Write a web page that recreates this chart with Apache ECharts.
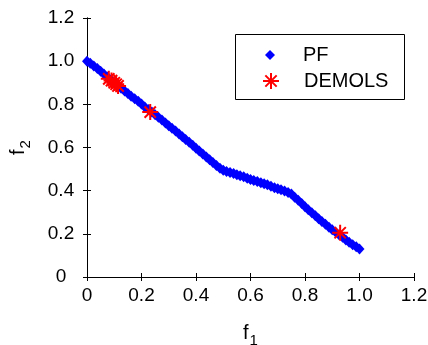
<!DOCTYPE html>
<html>
<head>
<meta charset="utf-8">
<script src="https://cdn.jsdelivr.net/npm/echarts@6/dist/echarts.min.js"></script>
<style>
html,body{margin:0;padding:0;background:#fff;}
#c{width:428px;height:345px;}
</style>
</head>
<body>
<div id="c"></div>
<script>
// Pareto front (PF) points
var pfF1 = [0.000,0.012,0.025,0.038,0.050,0.062,0.075,0.088,0.100,0.112,0.125,0.138,0.150,0.162,0.175,0.188,0.200,0.212,0.225,0.238,0.250,0.262,0.275,0.288,0.300,0.312,0.325,0.338,0.350,0.362,0.375,0.388,0.400,0.412,0.425,0.438,0.450,0.462,0.475,0.488,0.500,0.512,0.525,0.538,0.550,0.562,0.575,0.588,0.600,0.612,0.625,0.638,0.650,0.662,0.675,0.688,0.700,0.712,0.725,0.738,0.750,0.762,0.775,0.788,0.800,0.812,0.825,0.838,0.850,0.862,0.875,0.888,0.900,0.912,0.925,0.938,0.950,0.962,0.975,0.988,1.000];
var pfF2 = [1.000,0.990,0.978,0.966,0.953,0.940,0.927,0.913,0.900,0.888,0.875,0.862,0.850,0.838,0.826,0.814,0.801,0.788,0.776,0.764,0.752,0.740,0.727,0.714,0.701,0.689,0.676,0.663,0.650,0.637,0.624,0.610,0.597,0.584,0.570,0.556,0.543,0.530,0.517,0.504,0.495,0.489,0.484,0.479,0.474,0.469,0.464,0.458,0.452,0.447,0.442,0.437,0.432,0.427,0.421,0.414,0.409,0.404,0.398,0.392,0.384,0.370,0.356,0.341,0.326,0.312,0.298,0.284,0.270,0.257,0.244,0.231,0.219,0.208,0.196,0.184,0.172,0.161,0.150,0.140,0.130];
// DEMOLS solutions
var demF1 = [0.080,0.090,0.100,0.107,0.114,0.232,0.929];
var demF2 = [0.918,0.910,0.900,0.893,0.885,0.764,0.205];
// axis ticks
var axisMin = 0, axisMax = 1.2, axisStep = 0.2;
var seriesNames = ['PF','DEMOLS'];

function zip(a,b){var r=[];for(var i=0;i<a.length;i++)r.push([a[i],b[i]]);return r;}
function fmt(v){return Math.abs(v)<1e-9 ? '0' : v.toFixed(1);}

var starPath = 'path://M0,-10L0,10M-10,0L10,0M-7.07,-7.07L7.07,7.07M-7.07,7.07L7.07,-7.07';
var FONT = 'Liberation Sans, Arial, sans-serif';

function mkX(pos, show){
  return {type:'value', position:pos, min:axisMin, max:axisMax, interval:axisStep,
    axisLine:{show:true, lineStyle:{color:'#000', width:1}},
    axisTick:{show:true, inside:true, length:4, lineStyle:{color:'#000'}},
    splitLine:{show:false},
    axisLabel:{show:show, formatter:fmt, color:'#000', fontSize:19, fontFamily:FONT, margin:9},
    name: show ? '{f|f}{s|1}' : '', nameLocation:'middle', nameGap:42,
    nameTextStyle:{color:'#000', fontFamily:FONT, rich:{f:{fontSize:20, fontFamily:FONT, color:'#000'}, s:{fontSize:15, fontFamily:FONT, color:'#000', padding:[14,0,0,1]}}}
  };
}
function mkY(pos, show){
  return {type:'value', position:pos, min:axisMin, max:axisMax, interval:axisStep,
    axisLine:{show:true, lineStyle:{color:'#000', width:1}},
    axisTick:{show:true, inside:true, length:4, lineStyle:{color:'#000'}},
    splitLine:{show:false},
    axisLabel:{show:show, formatter:fmt, color:'#000', fontSize:19, fontFamily:FONT, margin:26, align:'center'},
    name: show ? '{f|f}{s|2}' : '', nameLocation:'middle', nameGap:54,
    nameTextStyle:{color:'#000', fontFamily:FONT, rich:{f:{fontSize:20, fontFamily:FONT, color:'#000'}, s:{fontSize:15, fontFamily:FONT, color:'#000', padding:[14,0,0,1]}}}
  };
}

var chart = echarts.init(document.getElementById('c'), null, {renderer:'canvas'});
chart.setOption({
  animation:false,
  backgroundColor:'#fff',
  grid:{left:87, right:14, top:18, bottom:68, containLabel:false, outerBoundsMode:'none'},
  xAxis:[mkX('bottom', true), mkX('top', false)],
  yAxis:[mkY('left', true), mkY('right', false)],
  legend:[
    {orient:'vertical', left:260, top:40, itemWidth:10, itemHeight:10,
     data:[{name:seriesNames[0]}],
     textStyle:{fontSize:20, fontFamily:FONT, color:'#000', padding:[0,0,0,23]}},
    {orient:'vertical', left:257, top:66, itemWidth:16, itemHeight:16,
     data:[{name:seriesNames[1]}],
     textStyle:{fontSize:20, fontFamily:FONT, color:'#000', padding:[0,0,0,20]}}
  ],
  graphic:[{type:'rect', left:233, top:32, shape:{width:169, height:65}, style:{fill:'none', stroke:'#000', lineWidth:1}, z:100}],
  series:[
    {name:seriesNames[0], type:'scatter', data:zip(pfF1,pfF2), symbol:'diamond', symbolSize:[10,11],
     itemStyle:{color:'#0000ff', opacity:1}, xAxisIndex:0, yAxisIndex:0, z:2},
    {name:seriesNames[1], type:'scatter', data:zip(demF1,demF2), symbol:starPath, symbolSize:16,
     itemStyle:{color:'#ff0000', borderColor:'#ff0000', borderWidth:2, opacity:1}, xAxisIndex:0, yAxisIndex:0, z:3}
  ]
});
</script>
</body>
</html>
